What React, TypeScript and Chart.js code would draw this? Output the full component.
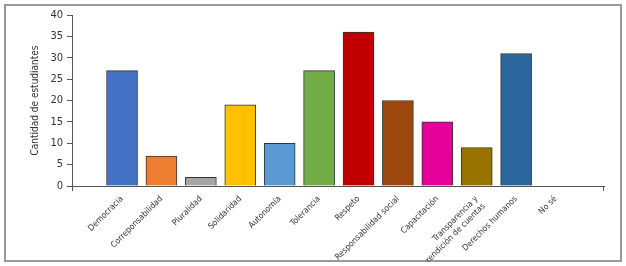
import React, { useEffect, useRef } from "react";
import { Chart, registerables } from "chart.js";

Chart.register(...registerables);

const categories: (string | string[])[] = [
  "Democracia",
  "Correponsabilidad",
  "Pluralidad",
  "Solidaridad",
  "Autonomía",
  "Tolerancia",
  "Respeto",
  "Responsabilidad social",
  "Capacitación",
  ["Transparencia y", "rendición de cuentas"],
  "Derechos humanos",
  "No sé",
];

const values: number[] = [27, 7, 2, 19, 10, 27, 36, 20, 15, 9, 31, 0];

const barColors: string[] = [
  "#4472C4",
  "#ED7D31",
  "#A5A5A5",
  "#FFC000",
  "#5B9BD5",
  "#70AD47",
  "#C00000",
  "#9E480E",
  "#E6009A",
  "#997300",
  "#2A659B",
  "#888888",
];

const yTicks = { min: 0, max: 40, step: 5 };
const yTitle = "Cantidad de estudiantes";

const FONT = "'DejaVu Sans Condensed', 'Liberation Sans Narrow', sans-serif";

const endTicks = {
  id: "endTicks",
  afterDraw(chart: any) {
    const { ctx, chartArea } = chart;
    ctx.save();
    ctx.strokeStyle = "#555";
    ctx.lineWidth = 1;
    ctx.beginPath();
    ctx.moveTo(chartArea.left + 0.5, chartArea.bottom);
    ctx.lineTo(chartArea.left + 0.5, chartArea.bottom + 5);
    ctx.moveTo(chartArea.right - 0.5, chartArea.bottom);
    ctx.lineTo(chartArea.right - 0.5, chartArea.bottom + 5);
    ctx.stroke();
    ctx.restore();
  },
};

export default function App() {
  const ref = useRef<HTMLCanvasElement | null>(null);
  useEffect(() => {
    if (!ref.current) return;
    const data = values.map((v, i) => ({ x: i, y: v }));
    const chart = new Chart(ref.current, {
      type: "bar",
      data: {
        datasets: [
          {
            data: data as any,
            backgroundColor: barColors,
            borderColor: "#333",
            borderWidth: 1,
            barThickness: 31,
          },
        ],
      },
      plugins: [endTicks],
      options: {
        animation: false,
        responsive: false,
        maintainAspectRatio: false,
        layout: { padding: { left: 29, top: 15, right: 22, bottom: 4 } },
        plugins: { legend: { display: false }, tooltip: { enabled: false } },
        scales: {
          x: {
            type: "linear",
            offset: false,
            min: -1.27,
            max: 12.23,
            afterFit: (s: any) => {
              s.height = 266 - 4 - 186;
            },
            ticks: {
              stepSize: 1,
              includeBounds: false,
              autoSkip: false,
              minRotation: 45,
              maxRotation: 45,
              padding: 0,
              color: "#333",
              font: { family: FONT, size: 8.5 },
              callback: (v: any) => {
                const i = Number(v);
                return Number.isInteger(i) && i >= 0 && i < categories.length ? categories[i] : "";
              },
            },
            grid: { display: false },
            border: { display: true, color: "#555", width: 1 },
          },
          y: {
            min: yTicks.min,
            max: yTicks.max,
            afterFit: (s: any) => {
              s.width = 72 - 29;
            },
            ticks: {
              stepSize: yTicks.step,
              color: "#333",
              padding: 4,
              font: { family: FONT, size: 11 },
            },
            grid: { display: true, drawOnChartArea: false, tickLength: 5, color: "#555" },
            border: { display: true, color: "#555", width: 1 },
            title: {
              display: true,
              text: yTitle,
              color: "#333",
              padding: 0,
              font: { family: FONT, size: 10 },
            },
          },
        },
      },
    });
    return () => chart.destroy();
  }, []);
  return (
    <div style={{ position: "fixed", left: 0, top: 0, width: 626, height: 266, background: "#fff" }}>
      <div
        style={{
          position: "absolute",
          left: 4,
          top: 4,
          width: 618,
          height: 258,
          boxSizing: "border-box",
          border: "2px solid #9a9a9a",
        }}
      />
      <canvas ref={ref} width={626} height={266} style={{ position: "absolute", left: 0, top: 0 }} />
    </div>
  );
}
